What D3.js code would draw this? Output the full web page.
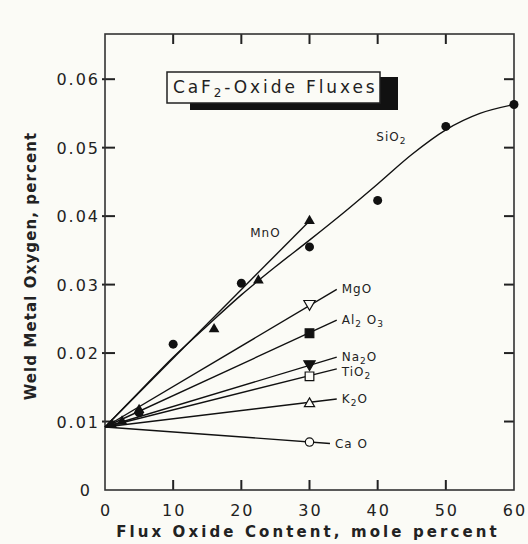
<!DOCTYPE html>
<meta charset="utf-8">
<style type="text/css">
  body { margin: 0; background: #fbfbf6; }
  svg { display: block; font-family: "DejaVu Sans", sans-serif; }
  .frame { fill: none; stroke: #333; stroke-width: 1.6; }
  .ticklabel { font-size: 16px; fill: #222; letter-spacing: 2px; }
  .fit { fill: none; stroke: #111; stroke-width: 1.4; }
  .lab { font-size: 12px; fill: #222; letter-spacing: 1px; }
  .title { font-size: 15px; font-weight: bold; fill: #222; }
</style>
<body></body>
<script src="https://d3js.org/d3.v7.min.js"></script>
<script>

// values
var xTicks = [0, 10, 20, 30, 40, 50, 60];
var yTicks = [0, 0.01, 0.02, 0.03, 0.04, 0.05, 0.06];
var yTickLabels = ["0", "0.01", "0.02", "0.03", "0.04", "0.05", "0.06"];

var sio2X = [5, 10, 20, 30, 40, 50, 60];
var sio2Y = [0.0113, 0.0213, 0.0302, 0.0355, 0.0423, 0.0531, 0.0563];
var sio2FitX = [0, 5, 10, 15, 20, 25, 30, 35, 40, 45, 50, 55, 60];
var sio2FitY = [0.0092, 0.0143, 0.0194, 0.0240, 0.0285, 0.0326, 0.0365, 0.0405, 0.0447, 0.0490, 0.0526, 0.0550, 0.0563];

var mnoX = [1, 2.5, 5, 16, 22.5, 30];
var mnoY = [0.0095, 0.0100, 0.0117, 0.0235, 0.0306, 0.0393];

// the single-point oxides: marker at 30 mole pct, line runs on to the label
var oxides   = ["MgO", "Al2O3", "Na2O", "TiO2", "K2O", "CaO"];
var oxideY30 = [0.0272, 0.0229, 0.0184, 0.0166, 0.0126, 0.0070];
var lineEndX = [34, 34, 34, 34, 34, 33];
var lineEndY = [0.0293, 0.0248, 0.0194, 0.0177, 0.0133, 0.0068];
var startY = 0.0092;

var margin = {top: 34, right: 14, bottom: 54, left: 105};
var width = 528 - margin.left - margin.right,
    height = 544 - margin.top - margin.bottom;

var svg = d3.select("body").append("svg")
    .attr("width", 528)
    .attr("height", 544);

var g = svg.append("g")
    .attr("transform", "translate(" + margin.left + "," + margin.top + ")");

var x = d3.scaleLinear().domain([0, 60]).range([0, width]);
var y = d3.scaleLinear().domain([0, 0.0666]).range([height, 0]);

// ticks on all four sides, pointing inward
var tl = 10;
var xIn = xTicks.slice(1, 6), yIn = yTicks.slice(1);
var ticks = g.append("g").attr("stroke", "#222").attr("stroke-width", 2);
xIn.forEach(function (d) {
  ticks.append("path").attr("d", "M" + x(d) + "," + height + "V" + (height - tl));
  ticks.append("path").attr("d", "M" + x(d) + ",0V" + tl);
});
yIn.forEach(function (d) {
  ticks.append("path").attr("d", "M-3," + y(d) + "H" + tl);
  ticks.append("path").attr("d", "M" + width + "," + y(d) + "H" + (width - tl));
});

g.append("rect").attr("class", "frame")
    .attr("width", width).attr("height", height);

// tick labels
g.selectAll(".ylab").data(yTicks).enter().append("text")
    .attr("class", "ticklabel")
    .attr("x", function (d, i) { return i == 0 ? -13 : -5; })
    .attr("y", function (d) { return y(d) + 6; })
    .attr("text-anchor", "end")
    .text(function (d, i) { return yTickLabels[i]; });

g.selectAll(".xlab").data(xTicks).enter().append("text")
    .attr("class", "ticklabel")
    .attr("x", function (d) { return x(d) + 1; })
    .attr("y", height + 26)
    .attr("text-anchor", "middle")
    .text(function (d) { return d; });

// axis titles
svg.append("text").attr("class", "title")
    .attr("x", 308).attr("y", 537)
    .attr("text-anchor", "middle")
    .attr("letter-spacing", "3.1px")
    .text("Flux Oxide Content, mole percent");

svg.append("text").attr("class", "title")
    .attr("transform", "translate(36,266) rotate(-90)")
    .attr("text-anchor", "middle")
    .attr("letter-spacing", "1.1px")
    .text("Weld Metal Oxygen, percent");

// SiO2 fitted curve
var sio2Fit = sio2FitX.map(function (d, i) { return [d, sio2FitY[i]]; });
g.append("path").attr("class", "fit")
    .attr("d", d3.line().curve(d3.curveMonotoneX)
        .x(function (d) { return x(d[0]); })
        .y(function (d) { return y(d[1]); })(sio2Fit));

// MnO straight line
g.append("line").attr("class", "fit")
    .attr("x1", x(0)).attr("y1", y(startY))
    .attr("x2", x(30)).attr("y2", y(mnoY[mnoY.length - 1]));

// other oxide lines
oxides.forEach(function (o, i) {
  g.append("line").attr("class", "fit")
      .attr("x1", x(0)).attr("y1", y(startY))
      .attr("x2", x(lineEndX[i])).attr("y2", y(lineEndY[i]));
});

// markers
g.selectAll(".sio2").data(sio2X).enter().append("circle")
    .attr("cx", function (d) { return x(d); })
    .attr("cy", function (d, i) { return y(sio2Y[i]); })
    .attr("r", 4.5).attr("fill", "#111");

var tri = d3.symbol().type(d3.symbolTriangle).size(50);
g.selectAll(".mno").data(mnoX).enter().append("path")
    .attr("d", tri)
    .attr("transform", function (d, i) { return "translate(" + x(d) + "," + y(mnoY[i]) + ")"; })
    .attr("fill", "#111");

var markerType = [
  {sym: d3.symbolTriangle, size: 55, fill: "#fbfbf6", rot: 180},
  {sym: d3.symbolSquare, size: 75, fill: "#111", rot: 0},
  {sym: d3.symbolTriangle, size: 55, fill: "#111", rot: 180},
  {sym: d3.symbolSquare, size: 75, fill: "#fbfbf6", rot: 0},
  {sym: d3.symbolTriangle, size: 45, fill: "#fbfbf6", rot: 0},
  {sym: d3.symbolCircle, size: 55, fill: "#fbfbf6", rot: 0}
];
oxides.forEach(function (o, i) {
  var m = markerType[i];
  g.append("path")
      .attr("d", d3.symbol().type(m.sym).size(m.size))
      .attr("transform", "translate(" + x(30) + "," + y(oxideY30[i]) + ") rotate(" + m.rot + ")")
      .attr("fill", m.fill).attr("stroke", "#111").attr("stroke-width", 1.2);
});

// series labels with subscripts
function label(parts, px, py) {
  var t = g.append("text").attr("class", "lab").attr("x", px).attr("y", py + 4);
  parts.forEach(function (p) {
    var s = t.append("tspan").text(p[0]);
    if (p[1]) s.attr("font-size", "9px").attr("dy", 3);
    else s.attr("dy", t.selectAll("tspan").size() > 1 ? -3 : 0);
  });
}
var labelParts = [
  [["MgO"]],
  [["Al"], ["2", 1], [" O"], ["3", 1]],
  [["Na"], ["2", 1], ["O"]],
  [["TiO"], ["2", 1]],
  [["K"], ["2", 1], ["O"]],
  [["Ca O"]]
];
var labelDy = [0, 0, 0, 3, 0, 1];
oxides.forEach(function (o, i) {
  label(labelParts[i], x(lineEndX[i]) + 5, y(lineEndY[i]) + labelDy[i]);
});
label([["MnO"]], x(21.3), y(0.0376));
label([["SiO"], ["2", 1]], x(39.8), y(0.0515));

// title box with shadow
svg.append("rect").attr("x", 190).attr("y", 77).attr("width", 208).attr("height", 33).attr("fill", "#111");
svg.append("rect").attr("x", 167).attr("y", 72).attr("width", 213).attr("height", 31)
    .attr("fill", "#fbfbf6").attr("stroke", "#222").attr("stroke-width", 1.5);
var tt = svg.append("text").attr("x", 173).attr("y", 93)
    .attr("font-size", "17px").attr("fill", "#222").attr("letter-spacing", "2.9px");
tt.append("tspan").text("CaF");
tt.append("tspan").text("2").attr("font-size", "12px").attr("dy", 4);
tt.append("tspan").text("-Oxide Fluxes").attr("dy", -4);

</script>
